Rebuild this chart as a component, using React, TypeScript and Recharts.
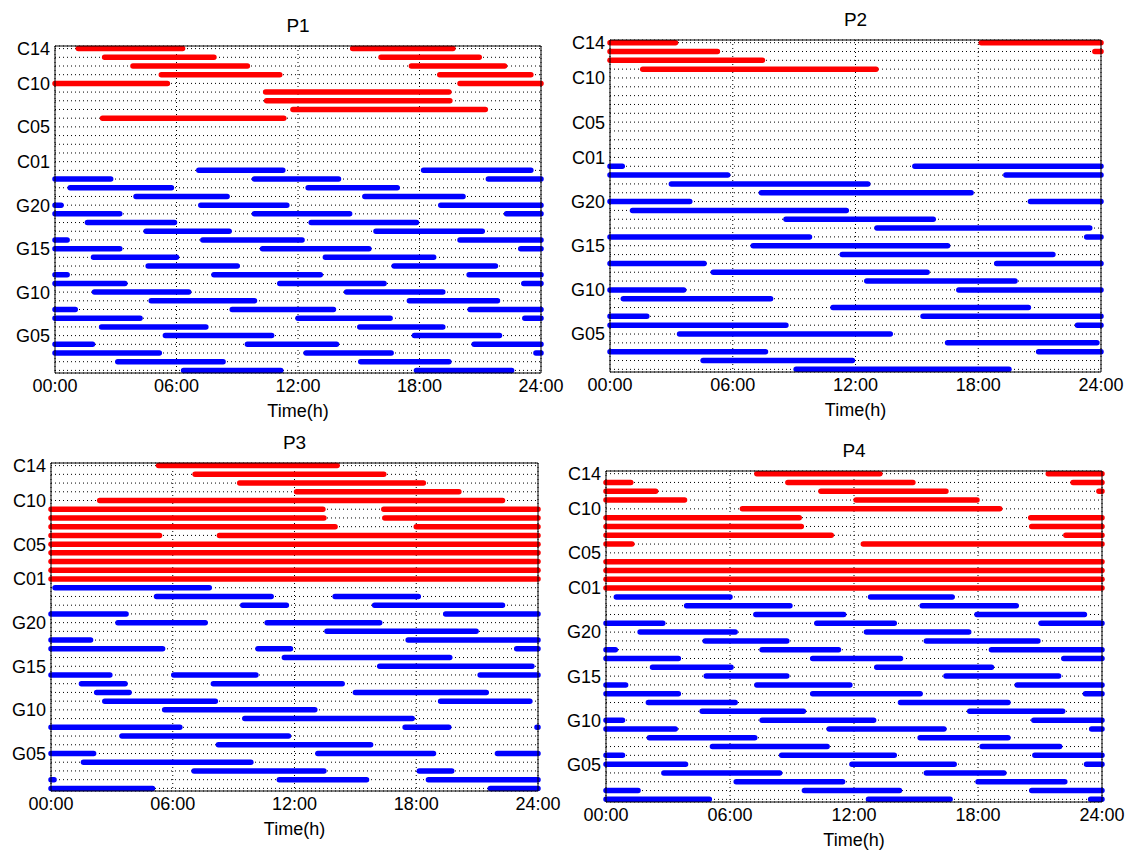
import React from 'react';
import { LineChart, Line, XAxis, YAxis, CartesianGrid, Label } from 'recharts';

const FONT = '"Liberation Sans", Arial, Helvetica, sans-serif';
const RED = '#ff0000';
const BLUE = '#0000ff';

// Time axis
const timeTicks = [0, 6, 12, 18, 24];
const timeTickLabels = ['00:00', '06:00', '12:00', '18:00', '24:00'];

// Row names, top to bottom
const redRows = ['C14', 'C13', 'C12', 'C11', 'C10', 'C09', 'C08', 'C07', 'C06', 'C05', 'C04', 'C03', 'C02', 'C01'];
const blueRows = ['G24', 'G23', 'G22', 'G21', 'G20', 'G19', 'G18', 'G17', 'G16', 'G15', 'G14', 'G13', 'G12', 'G11', 'G10', 'G09', 'G08', 'G07', 'G06', 'G05', 'G04', 'G03', 'G02', 'G01'];
const labeledRows = ['C14', 'C10', 'C05', 'C01', 'G20', 'G15', 'G10', 'G05'];

type Seg = [number, number];

// ---------- P1 ----------
const p1Red: Seg[][] = [
  [[1.15, 6.3], [14.7, 19.65]],
  [[2.45, 7.85], [16.1, 20.95]],
  [[3.85, 9.5], [17.6, 22.2]],
  [[5.25, 11.1], [19.0, 23.5]],
  [[0, 5.55], [20.0, 24]],
  [[10.4, 19.45]],
  [[10.45, 19.5]],
  [[11.75, 21.25]],
  [[2.35, 11.3]],
  [],
  [],
  [],
  [],
  [],
];
const p1Blue: Seg[][] = [
  [[7.1, 11.25], [18.2, 23.5]],
  [[0, 2.75], [9.85, 14.0], [21.4, 24]],
  [[0.75, 5.75], [12.5, 16.9]],
  [[4.0, 8.5], [15.3, 20.15]],
  [[0, 0.3], [7.2, 11.45], [19.05, 24]],
  [[0, 3.2], [9.85, 14.55], [22.3, 24]],
  [[1.6, 5.9], [12.65, 17.85]],
  [[4.5, 8.6], [15.85, 21.1]],
  [[0, 0.6], [7.3, 12.2], [20.0, 24]],
  [[0, 3.2], [10.25, 15.5], [23.0, 24]],
  [[1.9, 6.0], [13.35, 18.7]],
  [[4.6, 9.0], [16.75, 21.75]],
  [[0, 0.6], [7.85, 13.1], [20.45, 24]],
  [[0, 3.45], [11.1, 16.25], [23.15, 24]],
  [[1.95, 6.6], [14.4, 19.15]],
  [[4.75, 9.85], [17.5, 21.85]],
  [[0, 1.0], [8.75, 13.75], [20.5, 24]],
  [[0, 4.2], [12.0, 16.55], [23.2, 24]],
  [[2.3, 7.45], [15.05, 19.15]],
  [[5.45, 10.7], [17.75, 21.95]],
  [[0, 1.85], [9.5, 13.9], [20.7, 24]],
  [[0, 5.15], [12.4, 16.6], [23.75, 24]],
  [[3.1, 8.3], [15.1, 19.45]],
  [[6.35, 11.15], [17.85, 22.55]],
];

// ---------- P2 ----------
const p2Red: Seg[][] = [
  [[0, 3.2], [18.15, 24]],
  [[0, 5.25], [23.7, 24]],
  [[0, 7.45]],
  [[1.6, 13.0]],
  [],
  [],
  [],
  [],
  [],
  [],
  [],
  [],
  [],
  [],
];
const p2Blue: Seg[][] = [
  [[0, 0.6], [14.9, 24]],
  [[0, 5.75], [19.35, 24]],
  [[3.0, 12.6]],
  [[7.4, 17.65]],
  [[0, 3.9], [20.55, 24]],
  [[1.1, 11.55]],
  [[8.6, 15.8]],
  [[13.05, 23.45]],
  [[0, 9.75], [23.3, 24]],
  [[7.0, 16.5]],
  [[11.35, 21.65]],
  [[0, 4.6], [18.9, 24]],
  [[5.05, 15.5]],
  [[12.55, 19.8]],
  [[0, 3.6], [17.05, 24]],
  [[0.65, 7.85]],
  [[10.9, 20.45]],
  [[0, 1.8], [15.3, 24]],
  [[0, 8.6], [22.85, 24]],
  [[3.4, 13.7]],
  [[16.5, 23.8]],
  [[0, 7.6], [20.95, 24]],
  [[4.55, 11.85]],
  [[9.1, 19.5]],
];

// ---------- P3 ----------
const p3Red: Seg[][] = [
  [[5.3, 14.1]],
  [[7.1, 16.4]],
  [[9.3, 18.35]],
  [[12.1, 20.1]],
  [[2.4, 22.25]],
  [[0, 13.4], [16.4, 24]],
  [[0, 13.45], [16.45, 24]],
  [[0, 14.0], [18.0, 24]],
  [[0, 5.35], [8.3, 24]],
  [[0, 24]],
  [[0, 24]],
  [[0, 24]],
  [[0, 24]],
  [[0, 24]],
];
const p3Blue: Seg[][] = [
  [[0.2, 7.8]],
  [[5.2, 10.85], [14.0, 18.1]],
  [[9.45, 11.6], [15.95, 22.25]],
  [[0, 3.7], [19.45, 24]],
  [[3.3, 7.6], [10.65, 16.2]],
  [[13.6, 20.95]],
  [[0, 1.95], [17.6, 24]],
  [[0, 5.5], [10.2, 11.8], [22.95, 24]],
  [[11.5, 19.65]],
  [[16.2, 23.7]],
  [[0, 2.9], [6.05, 10.1], [21.15, 24]],
  [[1.5, 3.65], [8.0, 14.35]],
  [[2.25, 3.85], [15.0, 21.45]],
  [[2.65, 8.1], [19.2, 23.6]],
  [[5.6, 13.0]],
  [[9.55, 17.8]],
  [[0, 6.35], [17.45, 19.6], [23.95, 24]],
  [[3.5, 11.7]],
  [[8.25, 15.75]],
  [[0, 2.1], [13.15, 18.85], [22.0, 24]],
  [[1.6, 9.85]],
  [[7.05, 13.45], [18.15, 19.75]],
  [[0, 0.15], [11.25, 15.55], [18.6, 24]],
  [[0, 5.0], [21.65, 24]],
];

// ---------- P4 ----------
const p4Red: Seg[][] = [
  [[7.3, 13.25], [21.4, 24]],
  [[0, 1.2], [8.8, 14.85], [22.6, 24]],
  [[0, 2.4], [10.4, 16.45], [23.85, 24]],
  [[0, 3.8], [12.1, 17.95]],
  [[6.6, 19.05]],
  [[0, 9.35], [20.55, 24]],
  [[0, 9.45], [20.6, 24]],
  [[0, 10.9], [22.25, 24]],
  [[0, 1.25], [12.45, 24]],
  [],
  [[0, 24]],
  [[0, 24]],
  [[0, 24]],
  [[0, 24]],
];
const p4Blue: Seg[][] = [
  [[0.5, 6.0], [12.8, 16.75]],
  [[3.9, 8.9], [15.3, 19.85]],
  [[7.25, 11.5], [17.95, 23.15]],
  [[0, 2.75], [10.2, 13.95], [21.05, 24]],
  [[1.65, 6.25], [12.6, 17.55]],
  [[4.8, 8.75], [15.5, 20.9]],
  [[0, 0.45], [7.55, 11.25], [18.65, 24]],
  [[0, 3.5], [10.0, 14.25], [22.15, 24]],
  [[2.25, 6.05], [13.1, 18.65]],
  [[4.85, 8.75], [16.45, 21.9]],
  [[0, 0.95], [7.3, 11.8], [19.9, 24]],
  [[0, 3.5], [10.0, 15.2], [23.2, 24]],
  [[2.05, 6.25], [14.25, 19.45]],
  [[4.65, 9.55], [17.6, 22.1]],
  [[0, 0.8], [7.55, 12.95], [20.7, 24]],
  [[0, 3.35], [10.8, 16.35], [23.5, 24]],
  [[2.1, 7.2], [15.2, 19.45]],
  [[5.15, 10.7], [18.2, 21.95]],
  [[0, 0.8], [8.5, 13.95], [20.75, 24]],
  [[0, 3.85], [11.9, 16.85], [23.25, 24]],
  [[2.8, 8.4], [15.5, 19.25]],
  [[6.3, 11.45], [18.0, 22.2]],
  [[0, 1.55], [9.6, 14.2], [20.6, 24]],
  [[0, 5.0], [12.7, 16.65], [23.45, 24]],
];

// ---------- helpers ----------
const rowValue = (name: string) =>
  name[0] === 'G' ? Number(name.slice(1)) : 24 + Number(name.slice(1));
const allRowNames = [...redRows, ...blueRows];
const allRowValues = allRowNames.map(rowValue).sort((a, b) => a - b);
const nameOfValue = (v: number) => allRowNames.find((n) => rowValue(n) === v) || '';
const Y_DOMAIN: [number, number] = [0.7, 38.3];

type Pt = { x: number; y: number | null };
function rowPoints(segs: Seg[], y: number): Pt[] {
  const pts: Pt[] = [];
  segs.forEach(([s, e], i) => {
    if (i > 0) pts.push({ x: (segs[i - 1][1] + s) / 2, y: null });
    pts.push({ x: s, y }, { x: e, y });
  });
  return pts;
}

type PanelProps = {
  title: string;
  left: number;
  top: number;
  width: number;
  height: number;
  red: Seg[][];
  blue: Seg[][];
};

const ML = 50;
const YW = 48;
const MT = 10;
const MR = 26;
const XH = 24;
const MB = 56;

function Panel({ title, left, top, width, height, red, blue }: PanelProps) {
  const series: { key: string; color: string; pts: Pt[] }[] = [];
  red.forEach((segs, i) => {
    if (segs.length) series.push({ key: redRows[i], color: RED, pts: rowPoints(segs, rowValue(redRows[i])) });
  });
  blue.forEach((segs, i) => {
    if (segs.length) series.push({ key: blueRows[i], color: BLUE, pts: rowPoints(segs, rowValue(blueRows[i])) });
  });
  const tickStyle = { fill: '#000', fontSize: 18, fontFamily: FONT };
  return (
    <>
      <div
        style={{
          position: 'absolute',
          left,
          top: top - 30,
          width,
          textAlign: 'center',
          fontFamily: FONT,
          fontSize: 19,
          lineHeight: '20px',
          color: '#000',
        }}
      >
        {title}
      </div>
      <div style={{ position: 'absolute', left: left - ML, top: top - MT }}>
        <LineChart
          width={width + ML + MR}
          height={height + MT + MB}
          margin={{ top: MT, right: MR, bottom: MB - XH, left: ML - YW }}
        >
          <CartesianGrid stroke="#000" strokeDasharray="1 3" strokeWidth={1} />
          <XAxis
            type="number"
            dataKey="x"
            domain={[0, 24]}
            ticks={timeTicks}
            interval={0}
            tickFormatter={(v: number) => timeTickLabels[timeTicks.indexOf(v)] ?? ''}
            tickLine={false}
            tickSize={0}
            tickMargin={6}
            height={XH}
            stroke="#000"
            axisLine={{ stroke: '#000' }}
            tick={tickStyle}
          >
            <Label value="Time(h)" position="bottom" offset={7} style={{ fill: '#000', fontSize: 18, fontFamily: FONT }} />
          </XAxis>
          <XAxis
            xAxisId="top"
            orientation="top"
            mirror
            type="number"
            domain={[0, 24]}
            allowDataOverflow
            ticks={timeTicks}
            interval={0}
            tick={false}
            tickSize={4}
            stroke="#000"
            tickLine={{ stroke: '#000' }}
            axisLine={{ stroke: '#000' }}
          />
          <XAxis
            xAxisId="bottomIn"
            orientation="bottom"
            mirror
            type="number"
            domain={[0, 24]}
            allowDataOverflow
            ticks={timeTicks}
            interval={0}
            tick={false}
            tickSize={4}
            stroke="#000"
            tickLine={{ stroke: '#000' }}
            axisLine={false}
          />
          <YAxis
            type="number"
            domain={Y_DOMAIN}
            ticks={allRowValues}
            interval={0}
            width={YW}
            tickFormatter={(v: number) => {
              const n = nameOfValue(v);
              return labeledRows.includes(n) ? n : '';
            }}
            tickLine={false}
            tickSize={0}
            tickMargin={5}
            stroke="#000"
            axisLine={{ stroke: '#000' }}
            tick={tickStyle}
          />
          <YAxis
            yAxisId="leftIn"
            orientation="left"
            mirror
            type="number"
            domain={Y_DOMAIN}
            allowDataOverflow
            ticks={allRowValues}
            interval={0}
            tick={false}
            tickSize={4}
            stroke="#000"
            tickLine={{ stroke: '#000' }}
            axisLine={false}
          />
          <YAxis
            yAxisId="rightIn"
            orientation="right"
            mirror
            type="number"
            domain={Y_DOMAIN}
            allowDataOverflow
            ticks={allRowValues}
            interval={0}
            tick={false}
            tickSize={4}
            stroke="#000"
            tickLine={{ stroke: '#000' }}
            axisLine={{ stroke: '#000' }}
          />
          {series.map((s) => (
            <Line
              key={s.key}
              data={s.pts}
              dataKey="y"
              type="linear"
              stroke={s.color}
              strokeWidth={5.5}
              strokeLinecap="round"
              dot={false}
              activeDot={false}
              connectNulls={false}
              isAnimationActive={false}
            />
          ))}
        </LineChart>
      </div>
    </>
  );
}

export default function App() {
  return (
    <div style={{ position: 'absolute', left: 0, top: 0, width: 1126, height: 850, background: '#fff', overflow: 'hidden' }}>
      <Panel title="P1" left={55} top={46} width={486} height={327} red={p1Red} blue={p1Blue} />
      <Panel title="P2" left={610} top={40} width={491} height={332} red={p2Red} blue={p2Blue} />
      <Panel title="P3" left={51} top={463} width={487} height={328} red={p3Red} blue={p3Blue} />
      <Panel title="P4" left={606} top={471} width={496} height={331} red={p4Red} blue={p4Blue} />
    </div>
  );
}
